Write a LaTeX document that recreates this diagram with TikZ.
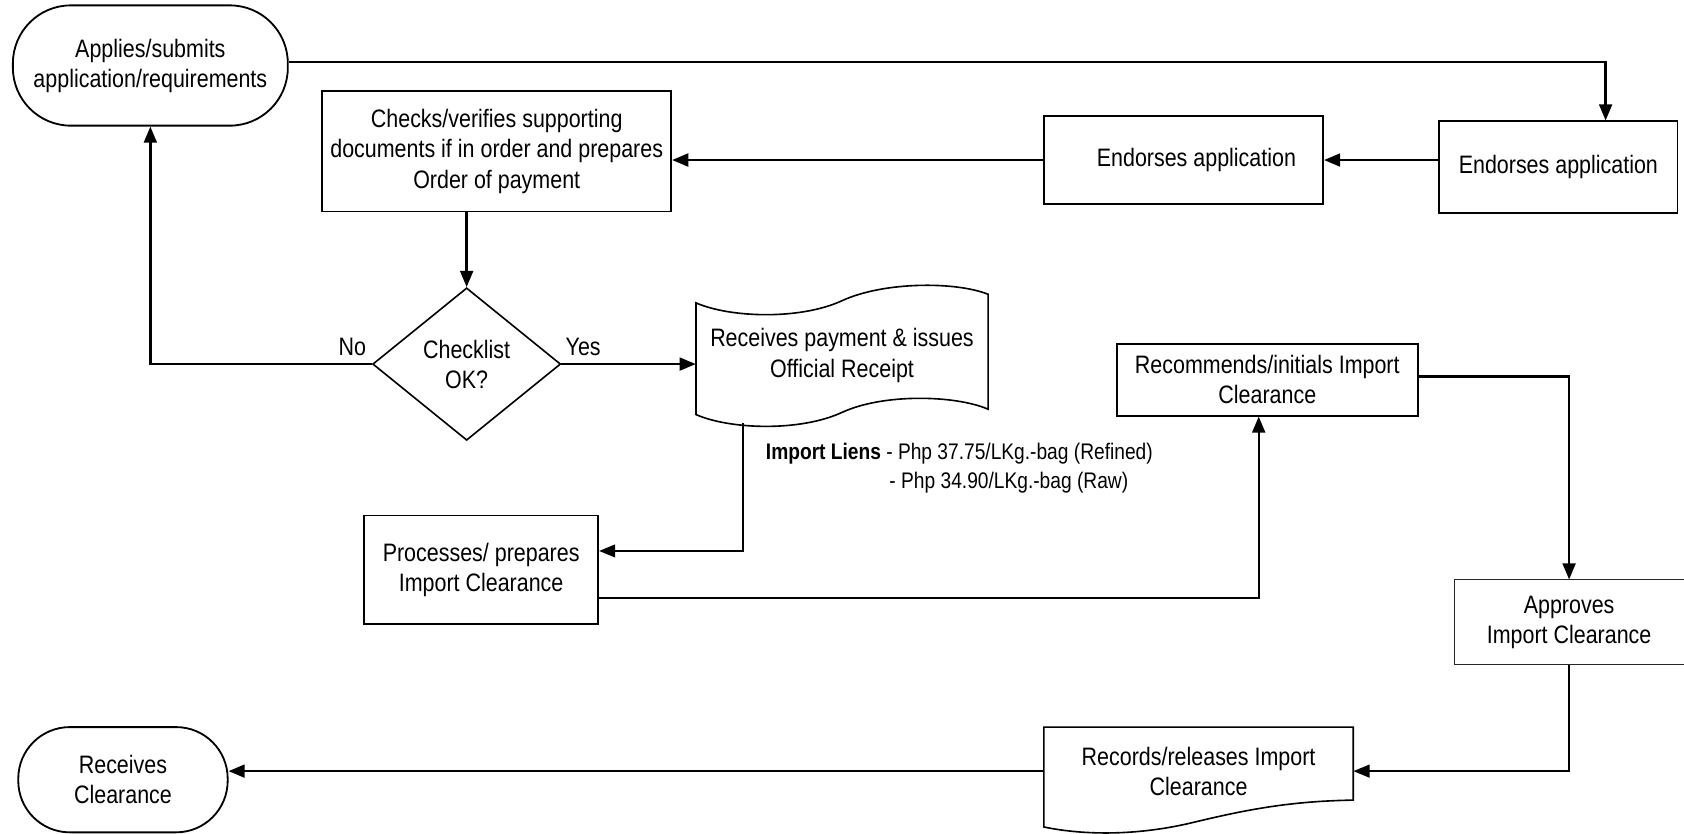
\documentclass[tikz,border=0pt]{standalone}
\usepackage{fontspec}
\setmainfont{Liberation Sans}[FakeStretch=0.85]
\usetikzlibrary{arrows.meta,shapes.geometric}
\begin{document}
\begin{tikzpicture}[x=1pt,y=-1pt,
  box/.style={draw, line width=1.7pt, align=center, inner sep=0pt},
  plain/.style={align=center, inner sep=0pt},
  arr/.style={line width=2.2pt, -{Triangle[length=15pt,width=12pt]}},
  thinarr/.style={line width=1.4pt, -{Triangle[length=15pt,width=12pt]}},
  small/.style={font=\fontsize{21}{26}\selectfont, inner sep=0pt},
  font=\fontsize{23.5}{28}\selectfont]

\useasboundingbox (0,0) rectangle (1568,776);

% nodes
\node[box, rounded corners=54pt, minimum width=256pt, minimum height=112pt] (start) at (140,61) {Applies/submits\\application/requirements};
\node[box, minimum width=325pt, minimum height=112pt] (chk) at (462.5,141) {Checks/verifies supporting\\documents if in order and prepares\\Order of payment};
\node[box, minimum width=260pt, minimum height=82pt] (e1) at (1102,149) {};
\node[plain] (e1t) at (1114,149) {Endorses application};
\node[box, minimum width=222pt, minimum height=85pt] (e2) at (1451,155.5) {Endorses application};
\node[draw, diamond, line width=1.5pt, inner sep=0pt, align=center, minimum width=175pt, minimum height=142pt] (dia) at (434.5,339) {Checklist\\OK?};
\node[plain, minimum width=272pt, minimum height=112pt] (tape) at (784,331) {Receives payment \& issues\\Official Receipt};
\draw[line width=1.5pt] (648,282) .. controls (680,296) and (745,298) .. (784,280)
   .. controls (823,262) and (890,262) .. (920,274) -- (920,381)
   .. controls (890,368) and (823,366) .. (784,384)
   .. controls (745,402) and (680,400) .. (648,386) -- cycle;
\node[box, minimum width=218pt, minimum height=101pt] (proc) at (448,530.5) {Processes/ prepares\\Import Clearance};
\node[box, minimum width=280pt, minimum height=67pt] (rcm) at (1180,353.5) {Recommends/initials Import\\Clearance};
\node[draw=black!85, line width=0.9pt, align=center, inner sep=0pt, minimum width=214pt, minimum height=79pt] (appr) at (1461,579.5) {Approves\\Import Clearance};
\node[plain, minimum width=288pt, minimum height=82pt] (recd) at (1116,718) {Records/releases Import\\Clearance};
\draw[line width=1.5pt] (972,677) -- (1260,677) -- (1260,745)
   .. controls (1200,746) and (1160,754) .. (1110,766)
   .. controls (1060,778) and (1010,778) .. (972,770) -- cycle;
\node[box, rounded corners=48pt, minimum width=195pt, minimum height=98pt] (rcv) at (114.5,726) {Receives\\Clearance};

% labels
\node[plain] (no) at (328,323) {No};
\node[plain] (yes) at (543,323) {Yes};
\node[small, anchor=base west] (il1) at (713,428) {\textbf{Import Liens} - Php 37.75/LKg.-bag (Refined)};
\node[small, anchor=base west] (il2) at (828,455) {- Php 34.90/LKg.-bag (Raw)};

% connectors
\draw[arr] ([yshift=3pt]start.east) -| ([xshift=44pt]e2.north);
\draw[arr] (e2.west |- e1.east) -- (e1.east);
\draw[arr] (e1.west) -- (e1.west -| chk.east);
\draw[arr] (dia.north |- chk.south) -- (dia.north);
\draw[arr] (dia.west) -| (start.south);
\draw[arr] (dia.east) -- (dia.east -| tape.west);
\coordinate (tp) at (692,394);
\draw[thinarr] (tp) |- ([yshift=17.5pt]proc.east);
\draw[arr] ([yshift=-26.5pt]proc.east) -| ([xshift=-8pt]rcm.south);
\draw[arr] ([yshift=3pt]rcm.east) -| (appr.north);
\draw[thinarr] (appr.south) |- (recd.east);
\draw[arr] (recd.west) -- (recd.west -| rcv.east);
\end{tikzpicture}
\end{document}
